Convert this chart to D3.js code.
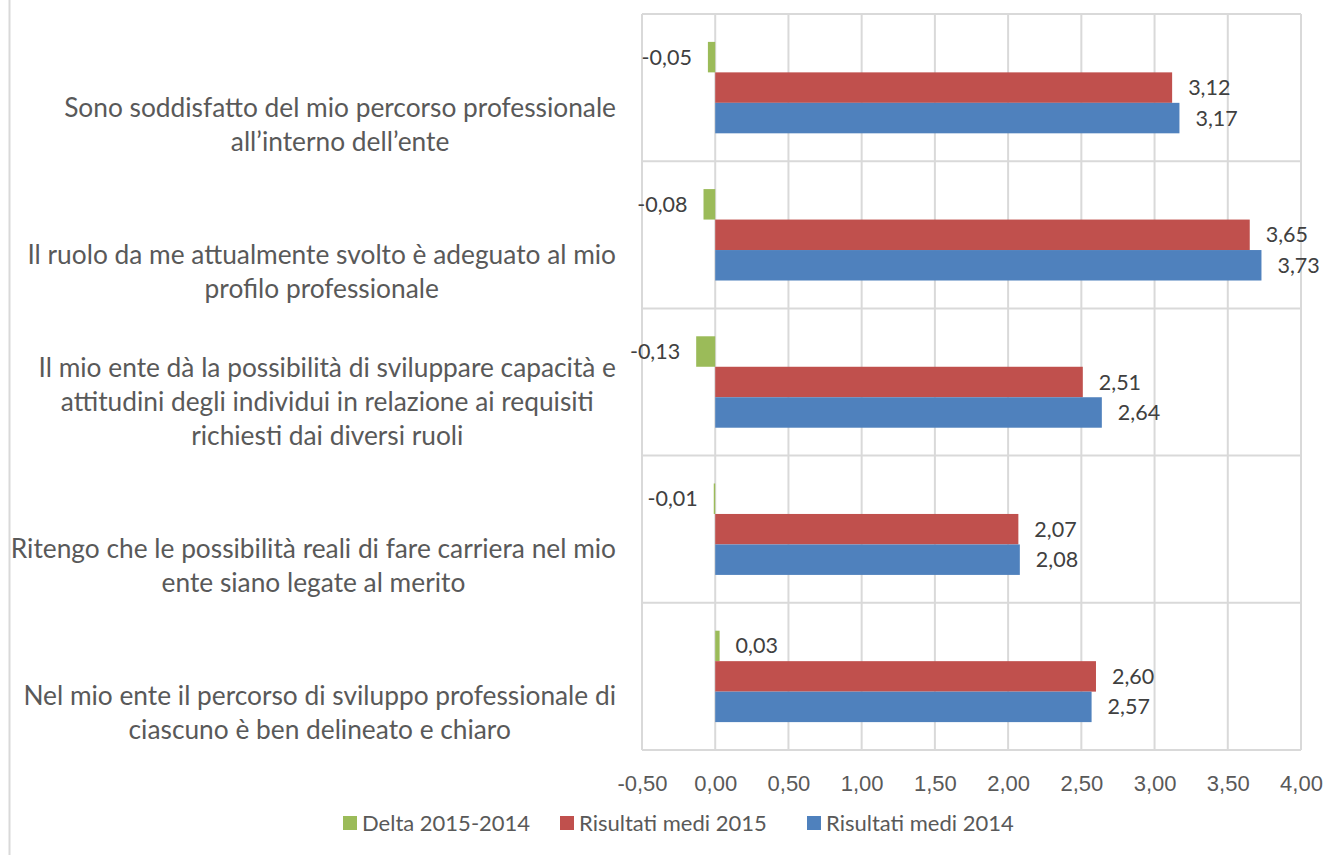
<!DOCTYPE html>
<html>
<head>
<meta charset="utf-8">
<script src="https://cdn.jsdelivr.net/npm/d3@7"></script>
<style>
  body { margin: 0; background: #fff; }
  svg { display: block; font-family: Lato, "Open Sans", sans-serif; }
</style>
</head>
<body>
<div id="container"></div>
<script>
// categories, top to bottom, already split in lines like the original
const categories = [
    ["Sono soddisfatto del mio percorso professionale", "all\u2019interno dell\u2019ente"],
    ["Il ruolo da me attualmente svolto è adeguato al mio", "profilo professionale"],
    ["Il mio ente dà la possibilità di sviluppare capacità e", "attitudini degli individui in relazione ai requisiti", "richiesti dai diversi ruoli"],
    ["Ritengo che le possibilità reali di fare carriera nel mio", "ente siano legate al merito"],
    ["Nel mio ente il percorso di sviluppo professionale di", "ciascuno è ben delineato e chiaro"]
];
const delta = [-0.05, -0.08, -0.13, -0.01, 0.03];
const medi2015 = [3.12, 3.65, 2.51, 2.07, 2.60];
const medi2014 = [3.17, 3.73, 2.64, 2.08, 2.57];
const seriesNames = ["Delta 2015-2014", "Risultati medi 2015", "Risultati medi 2014"];
const seriesColors = ["#9BBB59", "#C0504D", "#4F81BD"];
const xTicks = [-0.5, 0, 0.5, 1, 1.5, 2, 2.5, 3, 3.5, 4];

const width = 1325;
const height = 855;
const margin = ({ top: 14, right: 24, bottom: 105, left: 642 });

const series = [delta, medi2015, medi2014];
// italian decimal comma, plain hyphen for negatives
const fmt = v => d3.format(".2f")(v).replace(".", ",").replace("\u2212", "-");

let x = d3.scaleLinear()
    .domain([-0.5, 4])
    .range([margin.left, width - margin.right]);

let y = d3.scaleBand()
    .domain(d3.range(categories.length))
    .range([margin.top, height - margin.bottom]);

let ys = d3.scaleBand()
    .domain(d3.range(series.length))
    .range([0, y.bandwidth()])
    .paddingInner(0)
    .paddingOuter(0.915);

let svg = d3.select("#container").append("svg")
    .attr("width", width)
    .attr("height", height);

// outer chart border (left edge visible)
svg.append("line")
    .attr("x1", 9.5).attr("x2", 9.5)
    .attr("y1", 0).attr("y2", height)
    .attr("stroke", "#D9D9D9")
    .attr("stroke-width", 2);

// grid
let grid = svg.append("g")
    .attr("stroke", "#D9D9D9")
    .attr("stroke-width", 2);

grid.selectAll("line.v")
    .data(xTicks)
    .join("line")
    .attr("class", "v")
    .attr("x1", d => x(d))
    .attr("x2", d => x(d))
    .attr("y1", margin.top)
    .attr("y2", height - margin.bottom);

grid.selectAll("line.h")
    .data(d3.range(categories.length + 1))
    .join("line")
    .attr("class", "h")
    .attr("x1", margin.left)
    .attr("x2", width - margin.right)
    .attr("y1", d => d < categories.length ? y(d) : y(d - 1) + y.bandwidth())
    .attr("y2", d => d < categories.length ? y(d) : y(d - 1) + y.bandwidth());

// x axis labels
let xAxis = g => g
    .attr("transform", `translate(0,${height - margin.bottom + 17})`)
    .call(d3.axisBottom(x).tickValues(xTicks).tickFormat(fmt).tickSize(0).tickPadding(8))
    .call(g => g.select(".domain").remove())
    .call(g => g.selectAll("text")
        .attr("fill", "#595959")
        .attr("font-size", 22)
        .attr("font-family", null));

svg.append("g").call(xAxis);

// bars
series.forEach((values, s) => {
    let g = svg.append("g");
    g.selectAll("rect")
        .data(values)
        .join("rect")
        .attr("x", d => x(Math.min(0, d)))
        .attr("width", d => Math.abs(x(d) - x(0)))
        .attr("y", (d, i) => y(i) + ys(s))
        .attr("height", ys.bandwidth())
        .attr("fill", seriesColors[s]);

    g.selectAll("text")
        .data(values)
        .join("text")
        .attr("x", d => d < 0 ? x(d) - 16 : x(d) + 16)
        .attr("y", (d, i) => y(i) + ys(s) + ys.bandwidth() / 2)
        .attr("dy", "0.35em")
        .attr("text-anchor", d => d < 0 ? "end" : "start")
        .attr("fill", "#404040")
        .attr("font-size", 21.5)
        .text(fmt);
});

// category labels: centred lines, block pushed against the axis,
// bottom line anchored below band centre
let lineH = 34;
let labelRight = 616;
let cat = svg.append("g")
    .attr("fill", "#595959")
    .attr("font-size", 26.3)
    .attr("text-anchor", "middle");

categories.forEach((lines, i) => {
    let base = y(i) + y.bandwidth() / 2 + 63;
    let tspans = cat.append("text")
        .selectAll("tspan")
        .data(lines)
        .join("tspan")
        .attr("y", (d, k) => base - (lines.length - 1 - k) * lineH)
        .text(d => d);
    let maxW = d3.max(tspans.nodes(), n => n.getComputedTextLength());
    tspans.attr("x", labelRight - maxW / 2);
});

// legend
let legendX = [343, 560, 807];
let legend = svg.append("g")
    .attr("transform", `translate(0,${height - 32})`);

seriesNames.forEach((name, s) => {
    legend.append("rect")
        .attr("x", legendX[s])
        .attr("y", -7)
        .attr("width", 14)
        .attr("height", 14)
        .attr("fill", seriesColors[s]);
    legend.append("text")
        .attr("x", legendX[s] + 19)
        .attr("y", 0)
        .attr("dy", "0.35em")
        .attr("fill", "#595959")
        .attr("font-size", 22)
        .text(name);
});
</script>
</body>
</html>
